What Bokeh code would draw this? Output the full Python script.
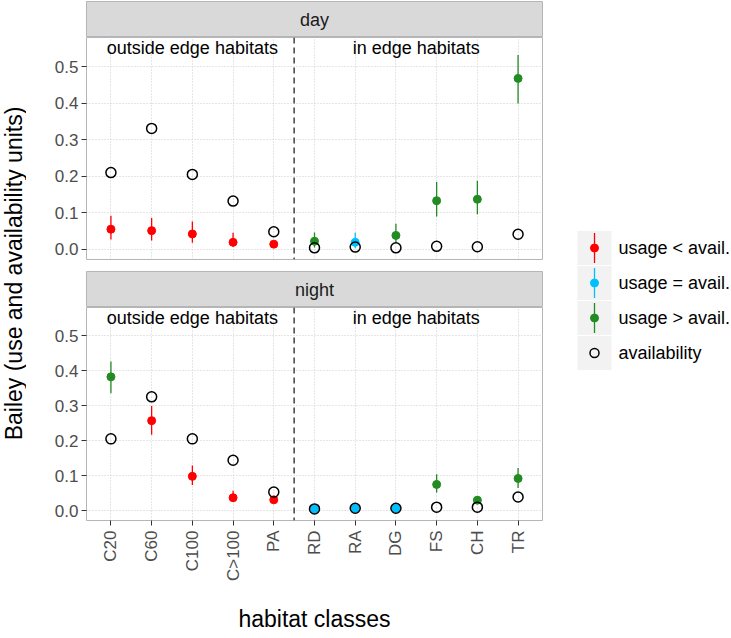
import math
from bokeh.plotting import figure
from bokeh.models import Range1d, FixedTicker, PrintfTickFormatter, Grid, Span, ColumnDataSource
from bokeh.layouts import row, column
from bokeh.embed import file_html
from bokeh.resources import INLINE
from bokeh.core.properties import value

# ---------------- data ----------------
categories = ["C20", "C60", "C100", "C>100", "PA", "RD", "RA", "DG", "FS", "CH", "TR"]
n_outside = 5  # first five classes are "outside edge habitats"

day_avail = [0.210, 0.331, 0.205, 0.132, 0.048, 0.004, 0.006, 0.004, 0.008, 0.007, 0.041]
day_use = [0.055, 0.051, 0.042, 0.019, 0.014, 0.022, 0.019, 0.038, 0.133, 0.137, 0.468]
day_lo = [0.027, 0.024, 0.018, 0.007, 0.008, 0.005, 0.003, 0.020, 0.090, 0.096, 0.399]
day_hi = [0.092, 0.086, 0.076, 0.045, 0.022, 0.046, 0.045, 0.070, 0.184, 0.188, 0.532]
day_status = ["<", "<", "<", "<", "<", ">", "=", ">", ">", ">", ">"]

night_avail = [0.205, 0.325, 0.205, 0.144, 0.053, 0.005, 0.007, 0.007, 0.010, 0.010, 0.039]
night_use = [0.382, 0.257, 0.098, 0.037, 0.031, 0.005, 0.007, 0.007, 0.075, 0.030, 0.092]
night_lo = [0.335, 0.217, 0.073, 0.025, 0.022, 0.002, 0.003, 0.003, 0.052, 0.020, 0.065]
night_hi = [0.426, 0.299, 0.129, 0.057, 0.040, 0.009, 0.011, 0.011, 0.104, 0.041, 0.122]
night_status = [">", "<", "<", "<", "<", "=", "=", "=", ">", ">", ">"]

panel_names = ["day", "night"]
region_labels = ["outside edge habitats", "in edge habitats"]
y_ticks = [0.0, 0.1, 0.2, 0.3, 0.4, 0.5]
status_keys = ["<", "=", ">"]
status_colors = ["#FF0000", "#00BFFF", "#228B22"]
legend_labels = ["usage < avail.", "usage = avail.", "usage > avail.", "availability"]
x_title = "habitat classes"
y_title = "Bailey (use and availability units)"

# ---------------- styling / layout ----------------
FONT = "Liberation Sans"
YW = 26         # width of the y-title column
L = 60          # left border of panels (y tick labels)
FW = 456        # frame width
FH = 222        # frame height
STRIP_H = 36
GAP = 11
BOTTOM = 106
GRID_COLOR = "#CDCDCD"
BORDER_COLOR = "#B5B5B5"

xs = list(range(1, len(categories) + 1))
x_range = Range1d(0.4, len(categories) + 0.6)
y_range = Range1d(-0.028, 0.58)
color_of = dict(zip(status_keys, status_colors))
x_ticker = FixedTicker(ticks=xs)
y_ticker = FixedTicker(ticks=y_ticks)


def style_yaxis(p):
    ax = p.yaxis[0]
    ax.ticker = y_ticker
    ax.formatter = PrintfTickFormatter(format="%.1f")
    ax.axis_line_color = None
    ax.major_tick_line_color = "#333333"
    ax.major_tick_in = 0
    ax.major_tick_out = 5
    ax.minor_tick_line_color = None
    ax.major_label_standoff = 3
    ax.major_label_text_font = FONT
    ax.major_label_text_font_size = "17px"
    ax.major_label_text_color = "#4D4D4D"
    p.ygrid.ticker = y_ticker
    p.ygrid.grid_line_color = GRID_COLOR
    p.ygrid.grid_line_dash = "1 2"
    p.ygrid.grid_line_width = 1


def make_strip(label):
    s = figure(width=L + FW + 1, height=STRIP_H + 1, x_range=x_range, y_range=Range1d(0, 1),
               x_axis_type=None, y_axis_type=None,
               min_border_left=L, min_border_right=1, min_border_top=1, min_border_bottom=0,
               background_fill_color="#D9D9D9", outline_line_color=BORDER_COLOR,
               toolbar_location=None, output_backend="svg")
    mid = (xs[0] + xs[-1]) / 2
    s.text(x=[mid], y=[0.5], text=[label], text_font=value(FONT), text_font_size="18px",
           text_align="center", text_baseline="middle", text_color="#1A1A1A")
    return s


def make_panel(avail, use, lo, hi, status, show_x):
    bottom = BOTTOM if show_x else GAP
    p = figure(width=L + FW + 1, height=FH + bottom, x_range=x_range, y_range=y_range,
               x_axis_type="linear" if show_x else None,
               min_border_left=L, min_border_right=1, min_border_top=0, min_border_bottom=bottom,
               background_fill_color="white", outline_line_color=BORDER_COLOR,
               toolbar_location=None, output_backend="svg")
    style_yaxis(p)
    if show_x:
        ax = p.xaxis[0]
        ax.ticker = x_ticker
        ax.major_label_overrides = {x: c for x, c in zip(xs, categories)}
        ax.major_label_orientation = math.pi / 2
        ax.axis_line_color = None
        ax.major_tick_line_color = "#333333"
        ax.major_tick_in = 0
        ax.major_tick_out = 5
        ax.minor_tick_line_color = None
        ax.major_label_standoff = 5
        ax.major_label_text_font = FONT
        ax.major_label_text_font_size = "17px"
        ax.major_label_text_color = "#4D4D4D"
        ax.axis_label = x_title
        ax.axis_label_text_font = FONT
        ax.axis_label_text_font_size = "23px"
        ax.axis_label_text_font_style = "normal"
        ax.axis_label_text_color = "black"
        ax.axis_label_standoff = 22
        p.xgrid.ticker = x_ticker
        p.xgrid.grid_line_color = GRID_COLOR
        p.xgrid.grid_line_dash = "1 2"
    else:
        g = Grid(dimension=0, ticker=x_ticker, grid_line_color=GRID_COLOR, grid_line_dash="1 2")
        p.add_layout(g)

    src = ColumnDataSource(dict(x=xs, avail=avail, use=use, lo=lo, hi=hi,
                                color=[color_of[s] for s in status]))
    p.segment(x0="x", y0="lo", x1="x", y1="hi", line_color="color", line_width=1.3, source=src)
    p.scatter("x", "use", size=8, fill_color="color", line_color="color", source=src)
    p.scatter("x", "avail", size=10, fill_color=None, line_color="black", line_width=1.5, source=src)

    p.add_layout(Span(location=n_outside + 0.5, dimension="height", line_color="#4D4D4D",
                      line_width=1.6, line_dash="6 4"))
    cx = [sum(xs[:n_outside]) / n_outside, sum(xs[n_outside:]) / (len(xs) - n_outside)]
    p.text(x=cx, y=[0.55, 0.55], text=region_labels, text_font=value(FONT), text_font_size="18px",
           text_align="center", text_baseline="middle", text_color="black")
    return p


strip_day = make_strip(panel_names[0])
panel_day = make_panel(day_avail, day_use, day_lo, day_hi, day_status, False)
strip_night = make_strip(panel_names[1])
panel_night = make_panel(night_avail, night_use, night_lo, night_hi, night_status, True)

col = column(strip_day, panel_day, strip_night, panel_night, spacing=0)
H = (STRIP_H + 1) * 2 + FH + GAP + FH + BOTTOM

# y-axis title
ylab = figure(width=YW, height=H, x_range=Range1d(0, YW), y_range=Range1d(0, H),
              x_axis_type=None, y_axis_type=None, min_border=0, outline_line_color=None,
              toolbar_location=None, output_backend="svg")
ylab.text(x=[13], y=[H - 273], text=[y_title], angle=math.pi / 2, text_font=value(FONT),
          text_font_size="23px", text_align="center", text_baseline="middle", text_color="black")

# legend
LW = 731 - YW - (L + FW + 1)
lg = figure(width=LW, height=H, x_range=Range1d(0, LW), y_range=Range1d(H, 0),
            x_axis_type=None, y_axis_type=None, min_border=0, outline_line_color=None,
            toolbar_location=None, output_backend="svg")
key_x = 51
key_y = [247.5 + 35 * i for i in range(len(legend_labels))]
lg.rect(x=[key_x] * len(key_y), y=key_y, width=34, height=34, width_units="screen",
        height_units="screen", fill_color="#F2F2F2", line_color=None)
ky = key_y[:len(status_colors)]
lg.segment(x0=[key_x] * len(ky), y0=[y - 15 for y in ky], x1=[key_x] * len(ky),
           y1=[y + 15 for y in ky], line_color=status_colors, line_width=1.3)
lg.scatter(x=[key_x] * len(ky), y=ky, size=8, fill_color=status_colors, line_color=status_colors)
lg.scatter(x=[key_x], y=[key_y[-1]], size=9, fill_color=None, line_color="black", line_width=1.5)
lg.text(x=[key_x + 24] * len(key_y), y=key_y, text=legend_labels, text_font=value(FONT),
        text_font_size="18px", text_align="left", text_baseline="middle", text_color="black")

layout = row(ylab, col, lg, spacing=0)

open("out.html", "w").write(file_html(layout, INLINE))
